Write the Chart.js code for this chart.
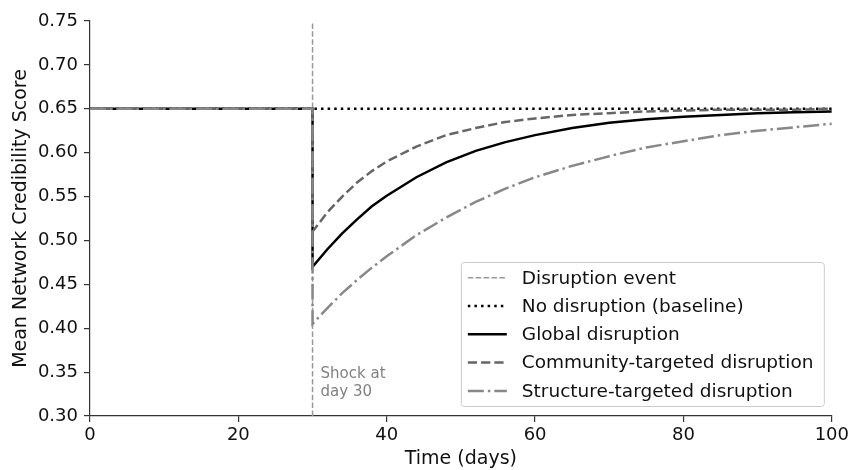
<!DOCTYPE html>
<html>
<head>
<meta charset="utf-8">
<script src="https://cdn.jsdelivr.net/npm/chart.js@4.4.1/dist/chart.umd.min.js"></script>
<style>
html,body{margin:0;padding:0;background:#fff;}
</style>
</head>
<body>
<canvas id="chart" width="852" height="470"></canvas>
<script>
// days (30 appears twice: value just before and just after the shock)
var days = [0, 30, 30, 32, 34, 36, 38, 40, 44, 48, 52, 56, 60, 65, 70, 75, 80, 85, 90, 95, 100];
var globalScore = [0.650, 0.650, 0.470, 0.490, 0.508, 0.524, 0.539, 0.551, 0.572, 0.589, 0.602, 0.612, 0.620, 0.628, 0.634, 0.638, 0.641, 0.643, 0.645, 0.646, 0.647];
var communityScore = [0.650, 0.650, 0.510, 0.532, 0.550, 0.566, 0.579, 0.590, 0.607, 0.620, 0.628, 0.635, 0.639, 0.643, 0.645, 0.647, 0.648, 0.649, 0.649, 0.649, 0.650];
var structureScore = [0.650, 0.650, 0.405, 0.423, 0.440, 0.455, 0.469, 0.482, 0.506, 0.526, 0.544, 0.559, 0.572, 0.585, 0.596, 0.606, 0.613, 0.620, 0.625, 0.629, 0.633];

var baselineDays = [0, 100];
var baselineScore = [0.65, 0.65];

var eventDay = 30;
var eventRange = [0.30, 0.75];

var labels = ['Disruption event', 'No disruption (baseline)', 'Global disruption', 'Community-targeted disruption', 'Structure-targeted disruption'];
var yTicks = [0.30, 0.35, 0.40, 0.45, 0.50, 0.55, 0.60, 0.65, 0.70, 0.75];
var xTicks = [0, 20, 40, 60, 80, 100];

function pts(xs, ys){
	return xs.map(function(x, i){ return {x: x, y: ys[i]}; });
}

Chart.defaults.font.family = "'DejaVu Sans', sans-serif";
Chart.defaults.font.size = 18;
Chart.defaults.color = '#111';

// legend drawn inside the plot, lower right, with a box round it
var boxLegend = {
	id: 'boxLegend',
	afterDraw: function(chart){
		var ctx = chart.ctx, area = chart.chartArea;
		var w = 363, h = 144, rowH = 28.3;
		var x0 = area.right - 8 - w, y0 = area.bottom - 10 - h;
		ctx.save();
		ctx.fillStyle = 'rgba(255,255,255,0.8)';
		ctx.strokeStyle = '#cccccc';
		ctx.lineWidth = 1;
		ctx.beginPath();
		ctx.roundRect(x0 + 0.5, y0 + 0.5, w, h, 3);
		ctx.fill();
		ctx.stroke();

		chart.data.datasets.forEach(function(ds, i){
			var y = y0 + 15.7 + rowH * i;
			ctx.strokeStyle = ds.borderColor;
			ctx.lineWidth = ds.borderWidth;
			ctx.setLineDash(ds.borderDash || []);
			ctx.lineCap = 'butt';
			ctx.beginPath();
			ctx.moveTo(x0 + 7, y);
			ctx.lineTo(x0 + 46, y);
			ctx.stroke();
			ctx.setLineDash([]);
			ctx.fillStyle = '#111';
			ctx.font = "18.5px 'DejaVu Sans'";
			ctx.textBaseline = 'middle';
			ctx.fillText(ds.label, x0 + 61, y + 1);
		});
		ctx.restore();
	}
};

var shockNote = {
	id: 'shockNote',
	afterDraw: function(chart){
		var ctx = chart.ctx, area = chart.chartArea;
		var x = chart.scales.x.getPixelForValue(eventDay) + 8;
		ctx.save();
		ctx.fillStyle = '#808080';
		ctx.font = "15px 'DejaVu Sans'";
		ctx.textBaseline = 'alphabetic';
		ctx.fillText('Shock at', x, area.bottom - 38);
		ctx.fillText('day 30', x, area.bottom - 20.5);
		ctx.restore();
	}
};

var ctx = document.getElementById('chart');
var c = new Chart(ctx, {
	type: 'line',
	data: {
		datasets: [
			{
				label: labels[0],
				data: pts([eventDay, eventDay], eventRange),
				borderColor: '#999999',
				borderWidth: 1.5,
				borderDash: [5.5, 2.4],
				order: 5
			},
			{
				label: labels[1],
				data: pts(baselineDays, baselineScore),
				borderColor: '#000000',
				borderWidth: 2.5,
				borderDash: [2.5, 4.1],
				order: 4
			},
			{
				label: labels[2],
				data: pts(days, globalScore),
				borderColor: '#000000',
				borderWidth: 2.5,
				order: 3
			},
			{
				label: labels[3],
				data: pts(days, communityScore),
				borderColor: '#666666',
				borderWidth: 2.5,
				borderDash: [9.25, 4],
				order: 2
			},
			{
				label: labels[4],
				data: pts(days, structureScore),
				borderColor: '#888888',
				borderWidth: 2.5,
				borderDash: [16, 4, 2.5, 4],
				order: 1
			}
		]
	},
	options: {
		responsive: false,
		animation: false,
		devicePixelRatio: 1,
		layout: { padding: { left: 0, right: 19, top: 21, bottom: 0 } },
		elements: {
			point: { radius: 0, hoverRadius: 0 },
			line: { tension: 0, fill: false, borderCapStyle: 'butt' }
		},
		plugins: {
			legend: { display: false },
			tooltip: { enabled: false }
		},
		scales: {
			x: {
				type: 'linear',
				min: 0,
				max: 100,
				afterFit: function(axis){ axis.height = 54; },
				afterBuildTicks: function(axis){ axis.ticks = xTicks.map(function(v){ return {value: v}; }); },
				ticks: { padding: 3, maxRotation: 0, color: '#111' },
				grid: { drawOnChartArea: false, drawTicks: true, tickLength: 6, color: '#333', lineWidth: 1.2 },
				border: { display: true, color: '#333', width: 1.2 },
				title: { display: true, text: 'Time (days)', color: '#111', font: { size: 19 }, padding: { top: 0, bottom: 0 } }
			},
			y: {
				min: 0.30,
				max: 0.75,
				afterFit: function(axis){ axis.width = 90; },
				afterBuildTicks: function(axis){ axis.ticks = yTicks.map(function(v){ return {value: v}; }); },
				ticks: {
					padding: 6,
					color: '#111',
					callback: function(v){ return Number(v).toFixed(2); }
				},
				grid: { drawOnChartArea: false, drawTicks: true, tickLength: 6, color: '#333', lineWidth: 1.2 },
				border: { display: true, color: '#333', width: 1.2 },
				title: { display: true, text: 'Mean Network Credibility Score', color: '#111', font: { size: 19 }, padding: { top: 9.5, bottom: 0 } }
			}
		}
	},
	plugins: [boxLegend, shockNote]
});
</script>
</body>
</html>
